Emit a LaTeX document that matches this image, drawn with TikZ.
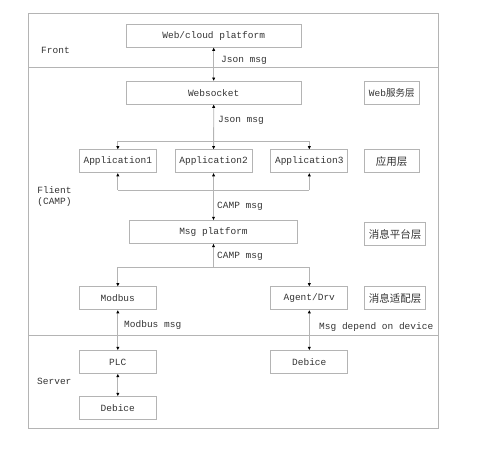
\documentclass[tikz,border=0pt]{standalone}
\usepackage{fontspec}
\setmainfont{Liberation Mono}
\newfontfamily\cjk{Noto Sans CJK SC}
\usetikzlibrary{arrows.meta}
\definecolor{linegray}{HTML}{B4B4B4}
\definecolor{txtgray}{HTML}{333333}
\begin{document}
\begin{tikzpicture}[x=1pt,y=-1pt,
  font=\fontsize{9.5}{11}\selectfont, text=txtgray,
  box/.style={draw=linegray, line width=0.8pt, rectangle, inner sep=0pt, minimum height=23pt},
  conn/.style={draw=linegray, line width=0.8pt},
  tip/.style={-{Triangle[length=3.2pt,width=2.8pt,black]}},
  tips/.style={{Triangle[length=3.2pt,width=2.8pt,black]}-{Triangle[length=3.2pt,width=2.8pt,black]}},
  lbl/.style={anchor=west, inner sep=0pt},
  cjkbox/.style={box, font=\cjk\fontsize{10.5}{12}\selectfont}
]
\useasboundingbox (0,0) rectangle (491,454);
% frame and layer dividers
\draw[conn] (28,13.3) rectangle (438.7,428);
\draw[conn] (28,67.7) -- (438.7,67.7);
\draw[conn] (28,335) -- (438.7,335);

% main nodes
\node[box, minimum width=174.7pt] (web) at (213.7,35.7) {Web/cloud platform};
\node[box, minimum width=174.7pt] (ws) at (213.7,92.7) {Websocket};
\node[box, minimum width=77pt] (app1) at (117.8,161.2) {Application1};
\node[box, minimum width=77pt] (app2) at (213.6,161.2) {Application2};
\node[box, minimum width=77pt] (app3) at (309.3,161.2) {Application3};
\node[box, minimum width=168.4pt] (msg) at (213.5,232) {Msg platform};
\node[box, minimum width=77pt] (modbus) at (117.8,298.3) {Modbus};
\node[box, minimum width=77pt] (agent) at (309.3,298.3) {Agent/Drv};
\node[box, minimum width=77pt] (plc) at (117.8,362) {PLC};
\node[box, minimum width=77pt] (devr) at (309.3,362) {Debice};
\node[box, minimum width=77pt] (devl) at (117.8,408) {Debice};

% layer labels
\node[cjkbox, minimum width=54.7pt] (lweb) at (391.7,92.7) {\fontsize{9.5}{11}\selectfont\rmfamily Web\cjk 服务层};
\node[cjkbox, minimum width=54.7pt] (lapp) at (391.7,161.2) {应用层};
\node[cjkbox, minimum width=61.4pt] (lmsg) at (395,234.3) {消息平台层};
\node[cjkbox, minimum width=61.4pt] (lada) at (395,298.3) {消息适配层};

% side labels
\node[lbl] (front) at (41,50) {Front};
\node[align=center, inner sep=0pt] (flient) at (54.5,196.7) {Flient\\(CAMP)};
\node[lbl] (server) at (37,381.3) {Server};

% bus coordinates
\coordinate (b1l) at (app1.north |- 0,141.3);
\coordinate (b1r) at (app3.north |- 0,141.3);
\coordinate (b2l) at (app1.south |- 0,190);
\coordinate (b2r) at (app3.south |- 0,190);
\coordinate (b3l) at (modbus.north |- 0,267.3);
\coordinate (b3r) at (agent.north |- 0,267.3);
\coordinate (b3m) at (msg.south |- 0,267.3);

% connectors
\draw[conn, tips] (web.south) -- (ws.north);
\draw[conn, tips] (ws.south) -- (app2.north);
\draw[conn] (b1l) -- (b1r);
\draw[conn, tip] (b1l) -- (app1.north);
\draw[conn, tip] (b1r) -- (app3.north);
\draw[conn, tips] (app2.south) -- (msg.north);
\draw[conn] (b2l) -- (b2r);
\draw[conn, tip] (b2l) -- (app1.south);
\draw[conn, tip] (b2r) -- (app3.south);
\draw[conn, tip] (b3m) -- (msg.south);
\draw[conn] (b3l) -- (b3r);
\draw[conn, tip] (b3l) -- (modbus.north);
\draw[conn, tip] (b3r) -- (agent.north);
\draw[conn, tips] (modbus.south) -- (plc.north);
\draw[conn, tips] (agent.south) -- (devr.north);
\draw[conn, tips] (plc.south) -- (devl.north);

% connector labels
\node[lbl] (j1) at (221,60) {Json msg};
\node[lbl] (j2) at (218,120.7) {Json msg};
\node[lbl] (c1) at (217,206.7) {CAMP msg};
\node[lbl] (c2) at (217,256.7) {CAMP msg};
\node[lbl] (m1) at (124,325.3) {Modbus msg};
\node[lbl] (m2) at (319,327.3) {Msg depend on device};
\end{tikzpicture}
\end{document}
